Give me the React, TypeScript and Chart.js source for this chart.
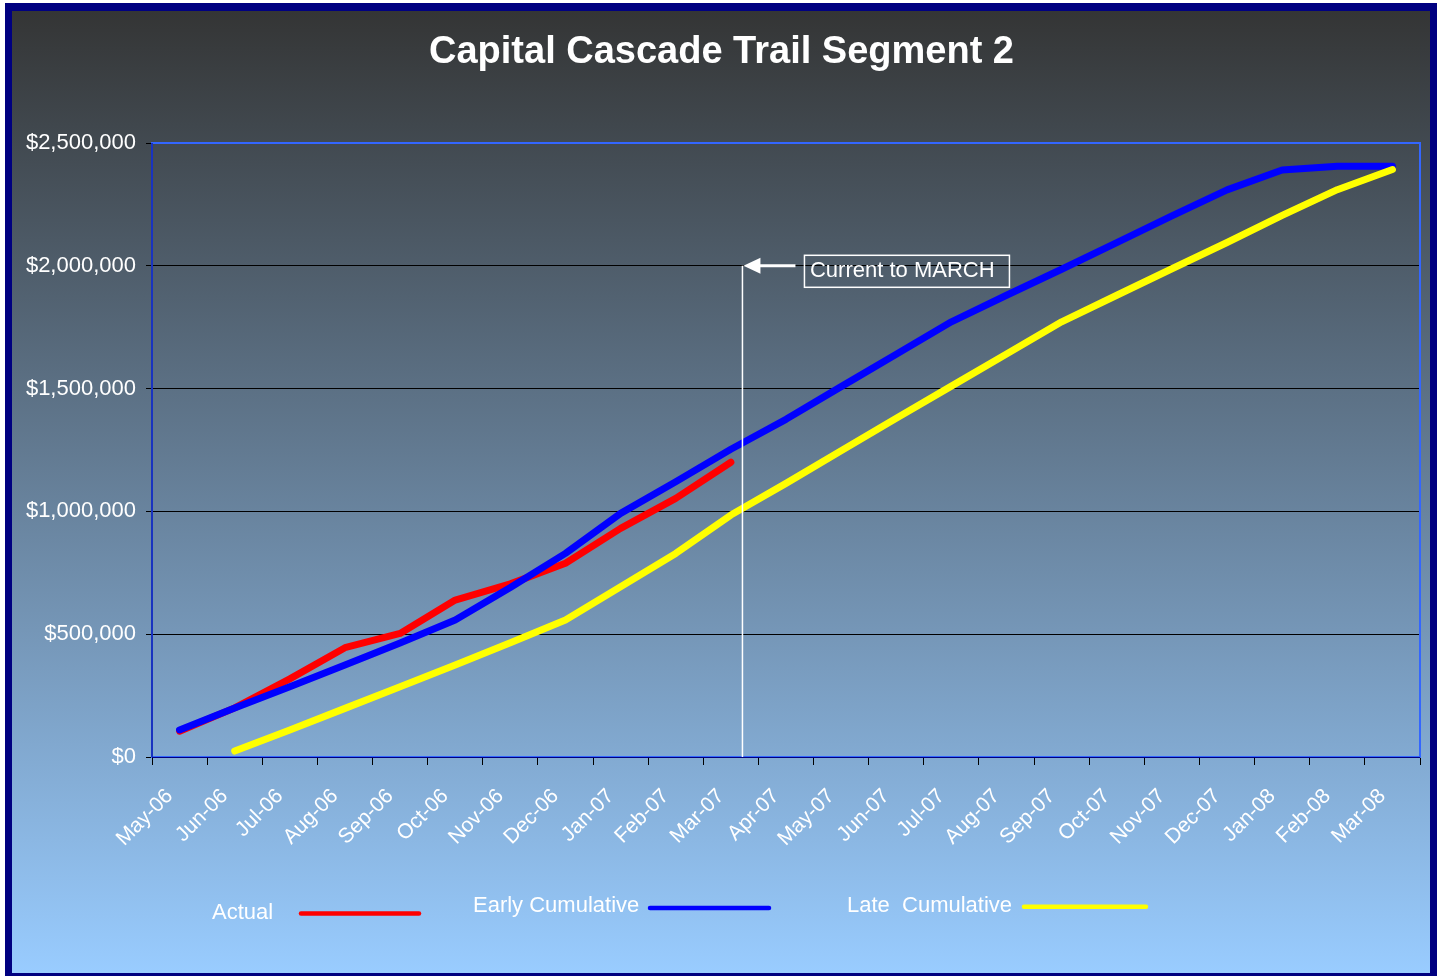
import React, { useEffect, useRef } from "react";
import { Chart, registerables } from "chart.js";

Chart.register(...registerables);

const TITLE = "Capital Cascade Trail Segment 2";
const MONTHS = [
  "May-06", "Jun-06", "Jul-06", "Aug-06", "Sep-06", "Oct-06", "Nov-06", "Dec-06",
  "Jan-07", "Feb-07", "Mar-07", "Apr-07", "May-07", "Jun-07", "Jul-07", "Aug-07",
  "Sep-07", "Oct-07", "Nov-07", "Dec-07", "Jan-08", "Feb-08", "Mar-08",
];
const ACTUAL = [
  105000, 200000, 318000, 445000, 503000, 639000, 705000, 789000, 931000, 1053000, 1200000,
  null, null, null, null, null, null, null, null, null, null, null, null,
];
const EARLY = [
  110000, 200000, 286000, 375000, 464000, 558000, 690000, 829000, 992000, 1121000, 1253000,
  1375000, 1508000, 1640000, 1772000, 1880000, 1986000, 2094000, 2203000, 2309000, 2390000,
  2405000, 2405000,
];
const LATE = [
  null, 24000, 110000, 198000, 286000, 375000, 465000, 558000, 693000, 829000, 985000,
  1114000, 1247000, 1379000, 1510000, 1641000, 1772000, 1880000, 1988000, 2095000, 2205000,
  2310000, 2392000,
];
const Y_MIN = 0;
const Y_MAX = 2500000;
const Y_STEP = 500000;
const SERIES_NAMES = ["Actual", "Early Cumulative", "Late  Cumulative"];
const SERIES_COLORS = ["#ff0000", "#0000ff", "#ffff00"];
const MARKER_MONTH = "Mar-07";
const MARKER_VALUE = 2000000;
const MARKER_TEXT = "Current to MARCH";

const FONT = "'Liberation Sans', Arial, Helvetica, sans-serif";
const W = 1444;
const H = 976;

const backgroundPlugin = {
  id: "bgFrame",
  beforeDraw(chart: any) {
    const ctx = chart.ctx;
    ctx.save();
    ctx.fillStyle = "#ffffff";
    ctx.fillRect(0, 0, W, H);
    ctx.fillStyle = "#000080";
    ctx.fillRect(5, 3, 1432, H - 3);
    const g = ctx.createLinearGradient(0, 11, 0, 973);
    g.addColorStop(0, "#343535");
    g.addColorStop(1, "#99ccff");
    ctx.fillStyle = g;
    ctx.fillRect(12, 11, 1418, 962);
    ctx.restore();
  },
};

const framePlugin = {
  id: "plotFrame",
  beforeDatasetsDraw(chart: any) {
    const { ctx, chartArea: a } = chart;
    ctx.save();
    ctx.strokeStyle = "#3366ff";
    ctx.lineWidth = 2;
    ctx.strokeRect(a.left, a.top, a.right - a.left, a.bottom - a.top);
    ctx.strokeStyle = "#000080";
    ctx.lineWidth = 1;
    ctx.beginPath();
    ctx.moveTo(a.left, a.top);
    ctx.lineTo(a.left, a.bottom);
    ctx.moveTo(a.left, a.bottom + 0.5);
    ctx.lineTo(a.right, a.bottom + 0.5);
    ctx.stroke();
    ctx.restore();
  },
};

const overlayPlugin = {
  id: "overlay",
  afterDraw(chart: any) {
    const ctx = chart.ctx;
    const xs = chart.scales.x;
    const ys = chart.scales.y;
    ctx.save();
    // Title
    ctx.fillStyle = "#ffffff";
    ctx.font = `bold 38px ${FONT}`;
    ctx.textAlign = "center";
    ctx.textBaseline = "alphabetic";
    ctx.fillText(TITLE, 721.5, 63);

    // Marker annotation
    const idx = MONTHS.indexOf(MARKER_MONTH);
    const step = xs.getPixelForValue(1) - xs.getPixelForValue(0);
    const lx = xs.getPixelForValue(idx) + 0.21 * step;
    const ty = ys.getPixelForValue(MARKER_VALUE);
    const by = ys.getPixelForValue(0);
    ctx.strokeStyle = "#ffffff";
    ctx.fillStyle = "#ffffff";
    ctx.lineWidth = 1.5;
    ctx.beginPath();
    ctx.moveTo(lx, ty);
    ctx.lineTo(lx, by);
    ctx.stroke();
    ctx.lineWidth = 3;
    ctx.beginPath();
    ctx.moveTo(lx + 14, ty);
    ctx.lineTo(lx + 53, ty);
    ctx.stroke();
    ctx.beginPath();
    ctx.moveTo(lx + 1, ty);
    ctx.lineTo(lx + 18, ty - 8);
    ctx.lineTo(lx + 18, ty + 8);
    ctx.closePath();
    ctx.fill();
    ctx.lineWidth = 1.5;
    ctx.strokeRect(lx + 62, ty - 10.5, 205, 32);
    ctx.font = `22px ${FONT}`;
    ctx.textAlign = "left";
    ctx.fillText(MARKER_TEXT, lx + 67.5, ty + 11.5);

    // Legend
    const items = [
      { tx: 212, ty: 919, x0: 301, x1: 419, ly: 913.5 },
      { tx: 473, ty: 912, x0: 650, x1: 769, ly: 908 },
      { tx: 847, ty: 912, x0: 1024, x1: 1146, ly: 906.7 },
    ];
    ctx.font = `22px ${FONT}`;
    ctx.lineCap = "round";
    items.forEach((it, i) => {
      ctx.fillStyle = "#ffffff";
      ctx.fillText(SERIES_NAMES[i], it.tx, it.ty);
      ctx.strokeStyle = SERIES_COLORS[i];
      ctx.lineWidth = 4.5;
      ctx.beginPath();
      ctx.moveTo(it.x0, it.ly);
      ctx.lineTo(it.x1, it.ly);
      ctx.stroke();
    });
    ctx.restore();
  },
};

export default function App() {
  const ref = useRef<HTMLCanvasElement | null>(null);
  useEffect(() => {
    document.body.style.margin = "0";
    const canvas = ref.current;
    if (!canvas) return;
    const series = [ACTUAL, EARLY, LATE];
    const chart = new Chart(canvas, {
      type: "line",
      data: {
        labels: MONTHS,
        datasets: series.map((d, i) => ({
          label: SERIES_NAMES[i],
          data: d,
          borderColor: SERIES_COLORS[i],
          backgroundColor: SERIES_COLORS[i],
          borderWidth: 7,
          pointRadius: 0,
          pointHoverRadius: 0,
          tension: 0,
          fill: false,
          spanGaps: false,
          borderCapStyle: "round",
          borderJoinStyle: "round",
          order: 3 - i,
        })),
      },
      options: {
        responsive: false,
        animation: false,
        events: [],
        layout: { padding: { top: 143, right: 24, left: 0, bottom: 0 } },
        plugins: {
          legend: { display: false },
          title: { display: false },
          tooltip: { enabled: false },
        },
        scales: {
          x: {
            type: "category",
            offset: true,
            border: { display: false },
            grid: {
              offset: true,
              drawOnChartArea: false,
              drawTicks: true,
              tickLength: 8,
              color: "#000000",
              lineWidth: 1,
            },
            ticks: {
              autoSkip: false,
              minRotation: 45,
              maxRotation: 45,
              color: "#ffffff",
              font: { family: FONT, size: 21 },
              padding: 19,
              labelOffset: -10,
            },
            afterFit(scale: any) {
              scale.height = 219;
            },
          },
          y: {
            min: Y_MIN,
            max: Y_MAX,
            border: { display: false },
            grid: {
              color: "#000000",
              lineWidth: 1,
              drawTicks: true,
              tickLength: 6,
            },
            ticks: {
              stepSize: Y_STEP,
              color: "#ffffff",
              font: { family: FONT, size: 22 },
              padding: 10,
              callback: (v: any) => "$" + Number(v).toLocaleString("en-US"),
            },
            afterFit(scale: any) {
              scale.width = 152;
            },
          },
        },
      },
      plugins: [backgroundPlugin, framePlugin, overlayPlugin],
    });
    return () => chart.destroy();
  }, []);
  return (
    <div style={{ width: W, height: H, position: "relative" }}>
      <canvas ref={ref} width={W} height={H} style={{ display: "block", width: W, height: H }} />
    </div>
  );
}
